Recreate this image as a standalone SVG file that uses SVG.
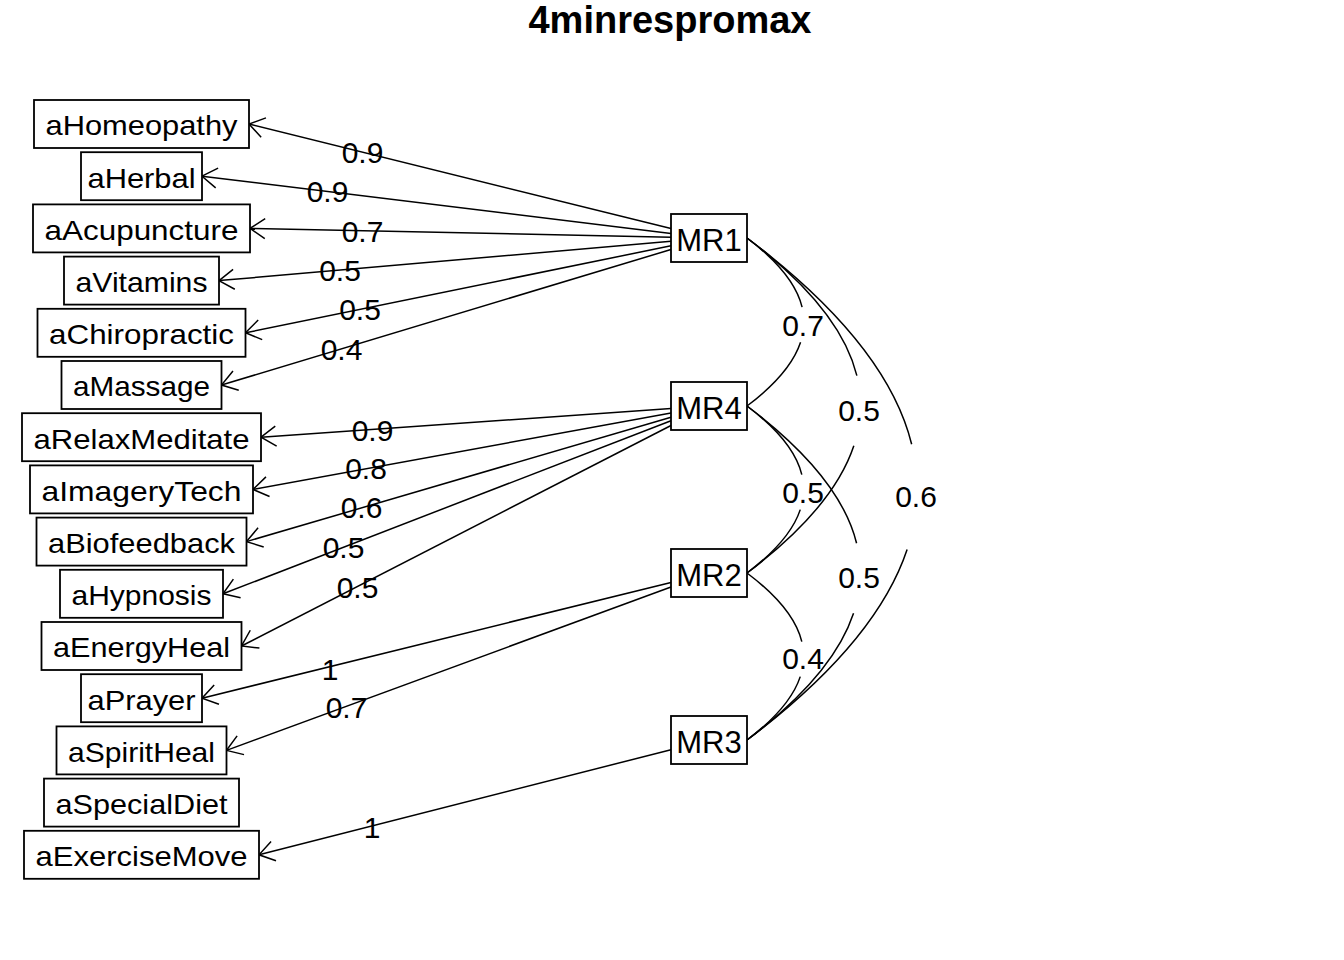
<svg xmlns="http://www.w3.org/2000/svg" width="1344" height="960" viewBox="0 0 1344 960">
<style>
.bg{fill:#ffffff}
.box{fill:#ffffff;stroke:#000;stroke-width:1.8}
.lbl{font-family:"Liberation Sans",Arial,sans-serif;font-size:28px;text-anchor:middle;fill:#000}
.mr{font-family:"Liberation Sans",Arial,sans-serif;font-size:31px;text-anchor:middle;fill:#000}
.el{font-family:"Liberation Sans",Arial,sans-serif;font-size:30px;text-anchor:middle;fill:#000}
.title{font-family:"Liberation Sans",Arial,sans-serif;font-size:38px;font-weight:bold;text-anchor:middle;fill:#000}
.edge{stroke:#000;stroke-width:1.5;fill:none;marker-end:url(#arr)}
.curve{stroke:#000;stroke-width:1.5;fill:none;stroke-dasharray:428 170 402}
</style>
<defs>
<marker id="arr" markerUnits="userSpaceOnUse" orient="auto" refX="0" refY="0" markerWidth="30" markerHeight="30" viewBox="-20 -15 25 30" overflow="visible">
<path d="M-15,-10 L0,0 L-15,10" fill="none" stroke="#000" stroke-width="1.5"/>
</marker>
</defs>
<rect class="bg" x="0" y="0" width="1344" height="960"/>
<text class="title" x="670" y="33">4minrespromax</text>

<g id="connectors">
<path class="edge" d="M671,228.6 L249,124"/>
<path class="edge" d="M671,233.4 L202,176.2"/>
<path class="edge" d="M671,237.2 L250,228.4"/>
<path class="edge" d="M671,241.3 L219,280.6"/>
<path class="edge" d="M671,245.8 L245.5,332.8"/>
<path class="edge" d="M671,249.5 L221.5,385"/>
<path class="edge" d="M671,408.6 L261,437.2"/>
<path class="edge" d="M671,413 L253,489.4"/>
<path class="edge" d="M671,417.2 L246.5,541.6"/>
<path class="edge" d="M671,420.7 L223,593.8"/>
<path class="edge" d="M671,425.5 L241.5,646"/>
<path class="edge" d="M671,582.4 L202,698.2"/>
<path class="edge" d="M671,587 L226.5,750.4"/>
<path class="edge" d="M671,749.7 L259,854.8"/>
<path class="curve" pathLength="1000" d="M747,238 C822.9,295.1 822.9,348.9 747,406"/>
<path class="curve" pathLength="1000" d="M747,238 C898.4,351.9 898.4,459.1 747,573"/>
<path class="curve" pathLength="1000" d="M747,238 C973.9,408.7 973.9,569.3 747,740"/>
<path class="curve" pathLength="1000" d="M747,406 C822.5,462.8 822.5,516.2 747,573"/>
<path class="curve" pathLength="1000" d="M747,406 C898,519.6 898,626.4 747,740"/>
<path class="curve" pathLength="1000" d="M747,573 C822.5,629.8 822.5,683.2 747,740"/>
</g>

<g id="edge-labels">
<text class="el" x="362.5" y="163">0.9</text>
<text class="el" x="327.5" y="202">0.9</text>
<text class="el" x="362.5" y="242">0.7</text>
<text class="el" x="340" y="281">0.5</text>
<text class="el" x="360" y="320">0.5</text>
<text class="el" x="341.5" y="360">0.4</text>
<text class="el" x="372.5" y="441">0.9</text>
<text class="el" x="366" y="479">0.8</text>
<text class="el" x="361.5" y="518">0.6</text>
<text class="el" x="343.5" y="558">0.5</text>
<text class="el" x="357.5" y="598">0.5</text>
<text class="el" x="330" y="680">1</text>
<text class="el" x="346.5" y="718">0.7</text>
<text class="el" x="372" y="838">1</text>
<text class="el" x="803" y="336">0.7</text>
<text class="el" x="859" y="421">0.5</text>
<text class="el" x="916" y="507">0.6</text>
<text class="el" x="803" y="503">0.5</text>
<text class="el" x="859" y="588">0.5</text>
<text class="el" x="803" y="669">0.4</text>
</g>

<g id="aHomeopathy"><rect class="box" x="34" y="100" width="215" height="48"/><text class="lbl" x="141.5" y="135.4" textLength="192" lengthAdjust="spacingAndGlyphs">aHomeopathy</text></g>
<g id="aHerbal"><rect class="box" x="81" y="152.2" width="121" height="48"/><text class="lbl" x="141.5" y="187.6" textLength="108" lengthAdjust="spacingAndGlyphs">aHerbal</text></g>
<g id="aAcupuncture"><rect class="box" x="33" y="204.4" width="217" height="48"/><text class="lbl" x="141.5" y="239.8" textLength="194" lengthAdjust="spacingAndGlyphs">aAcupuncture</text></g>
<g id="aVitamins"><rect class="box" x="64" y="256.6" width="155" height="48"/><text class="lbl" x="141.5" y="292" textLength="132" lengthAdjust="spacingAndGlyphs">aVitamins</text></g>
<g id="aChiropractic"><rect class="box" x="37.5" y="308.8" width="208" height="48"/><text class="lbl" x="141.5" y="344.2" textLength="185" lengthAdjust="spacingAndGlyphs">aChiropractic</text></g>
<g id="aMassage"><rect class="box" x="61.5" y="361" width="160" height="48"/><text class="lbl" x="141.5" y="396.4" textLength="137" lengthAdjust="spacingAndGlyphs">aMassage</text></g>
<g id="aRelaxMeditate"><rect class="box" x="22" y="413.2" width="239" height="48"/><text class="lbl" x="141.5" y="448.6" textLength="216" lengthAdjust="spacingAndGlyphs">aRelaxMeditate</text></g>
<g id="aImageryTech"><rect class="box" x="30" y="465.4" width="223" height="48"/><text class="lbl" x="141.5" y="500.8" textLength="200" lengthAdjust="spacingAndGlyphs">aImageryTech</text></g>
<g id="aBiofeedback"><rect class="box" x="36.5" y="517.6" width="210" height="48"/><text class="lbl" x="141.5" y="553" textLength="187" lengthAdjust="spacingAndGlyphs">aBiofeedback</text></g>
<g id="aHypnosis"><rect class="box" x="60" y="569.8" width="163" height="48"/><text class="lbl" x="141.5" y="605.2" textLength="140" lengthAdjust="spacingAndGlyphs">aHypnosis</text></g>
<g id="aEnergyHeal"><rect class="box" x="41.5" y="622" width="200" height="48"/><text class="lbl" x="141.5" y="657.4" textLength="177" lengthAdjust="spacingAndGlyphs">aEnergyHeal</text></g>
<g id="aPrayer"><rect class="box" x="81" y="674.2" width="121" height="48"/><text class="lbl" x="141.5" y="709.6" textLength="108" lengthAdjust="spacingAndGlyphs">aPrayer</text></g>
<g id="aSpiritHeal"><rect class="box" x="56.5" y="726.4" width="170" height="48"/><text class="lbl" x="141.5" y="761.8" textLength="147" lengthAdjust="spacingAndGlyphs">aSpiritHeal</text></g>
<g id="aSpecialDiet"><rect class="box" x="44" y="778.6" width="195" height="48"/><text class="lbl" x="141.5" y="814" textLength="172" lengthAdjust="spacingAndGlyphs">aSpecialDiet</text></g>
<g id="aExerciseMove"><rect class="box" x="24" y="830.8" width="235" height="48"/><text class="lbl" x="141.5" y="866.2" textLength="212" lengthAdjust="spacingAndGlyphs">aExerciseMove</text></g>

<g id="MR1"><rect class="box" x="671" y="214" width="76" height="48"/><text class="mr" x="709" y="250.5">MR1</text></g>
<g id="MR4"><rect class="box" x="671" y="382" width="76" height="48"/><text class="mr" x="709" y="418.5">MR4</text></g>
<g id="MR2"><rect class="box" x="671" y="549" width="76" height="48"/><text class="mr" x="709" y="585.5">MR2</text></g>
<g id="MR3"><rect class="box" x="671" y="716" width="76" height="48"/><text class="mr" x="709" y="752.5">MR3</text></g>
</svg>
